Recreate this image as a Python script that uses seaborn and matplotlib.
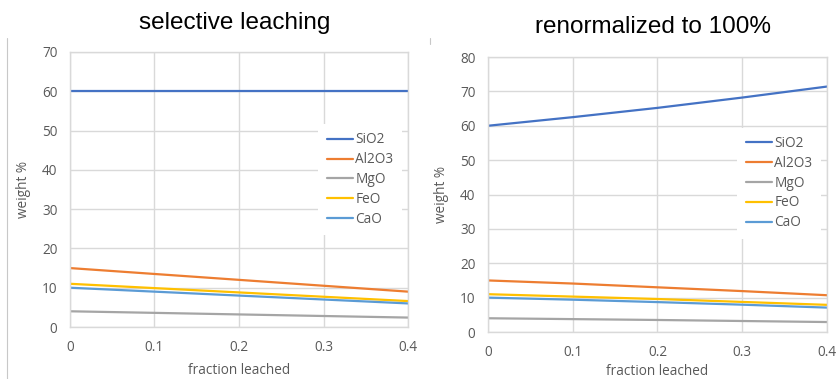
import matplotlib
matplotlib.use("Agg")
import matplotlib.pyplot as plt
from matplotlib.lines import Line2D
import seaborn as sns
import pandas as pd

# fraction of the non-silica oxides removed
fraction = [0.0, 0.1, 0.2, 0.3, 0.4]
oxides = ["SiO2", "Al2O3", "MgO", "FeO", "CaO"]

# weight % after selective leaching (absolute, not renormalized)
leach_sio2 = [60.0, 60.0, 60.0, 60.0, 60.0]
leach_al2o3 = [15.0, 13.5, 12.0, 10.5, 9.0]
leach_mgo = [4.0, 3.6, 3.2, 2.8, 2.4]
leach_feo = [11.0, 9.9, 8.8, 7.7, 6.6]
leach_cao = [10.0, 9.0, 8.0, 7.0, 6.0]

# the same compositions renormalized to a 100% total
norm_sio2 = [60.0, 62.5, 65.2, 68.2, 71.4]
norm_al2o3 = [15.0, 14.1, 13.0, 11.9, 10.7]
norm_mgo = [4.0, 3.75, 3.5, 3.2, 2.9]
norm_feo = [11.0, 10.3, 9.6, 8.75, 7.9]
norm_cao = [10.0, 9.4, 8.7, 7.95, 7.1]

titles = ["selective leaching", "renormalized to 100%"]
y_limits = [70, 80]

palette = {"SiO2": "#4472C4", "Al2O3": "#ED7D31", "MgO": "#A5A5A5",
           "FeO": "#FFC000", "CaO": "#5B9BD5"}


def long_table(series):
    rows = []
    for name, values in zip(oxides, series):
        for f, v in zip(fraction, values):
            rows.append({"fraction leached": f, "weight %": v, "oxide": name})
    return pd.DataFrame(rows)


tables = [
    long_table([leach_sio2, leach_al2o3, leach_mgo, leach_feo, leach_cao]),
    long_table([norm_sio2, norm_al2o3, norm_mgo, norm_feo, norm_cao]),
]

sns.set_theme(style="whitegrid")
plt.rcParams["font.family"] = ["Open Sans", "DejaVu Sans"]

fig = plt.figure(figsize=(8.38, 3.79), dpi=100)
axes_boxes = [[0.0835, 0.1372, 0.4034, 0.7256], [0.5823, 0.124, 0.4045, 0.7256]]
title_y = [0.938, 0.93]
legend_anchor = [(0.715, 0.762), (0.716, 0.768)]
xlabel_pad = [6, 3]
label_color = "#595959"
grid_color = "#d9d9d9"

for i in range(2):
    ax = fig.add_axes(axes_boxes[i])
    sns.lineplot(data=tables[i], x="fraction leached", y="weight %", hue="oxide",
                 hue_order=oxides, palette=palette, linewidth=1.6, ax=ax)
    ax.set_xlim(0, 0.4)
    ax.set_ylim(0, y_limits[i])
    ax.set_xticks(fraction)
    ax.set_xticklabels(["0", "0.1", "0.2", "0.3", "0.4"])
    ax.set_yticks(range(0, y_limits[i] + 1, 10))
    ax.tick_params(axis="both", labelsize=9.8, labelcolor=label_color, pad=9, length=0)
    ax.grid(True, color=grid_color, linewidth=1.0)
    for s in ax.spines.values():
        s.set_color(grid_color)
        s.set_linewidth(1.0)
    ax.set_xlabel("fraction leached", fontsize=9.8, color=label_color,
                  labelpad=xlabel_pad[i])
    ax.set_ylabel("weight %", fontsize=9.8, color=label_color, labelpad=8)
    leg = ax.legend(loc="upper left", bbox_to_anchor=legend_anchor[i], frameon=True,
                    fontsize=9.8, handlelength=1.9, handletextpad=0.2,
                    labelspacing=0.36, borderpad=0.6, title=None)
    leg.get_frame().set_facecolor("white")
    leg.get_frame().set_edgecolor("none")
    leg.get_frame().set_alpha(1.0)
    for t in leg.get_texts():
        t.set_color(label_color)
    fig.text(axes_boxes[i][0] + axes_boxes[i][2] / 2 - 0.005, title_y[i], titles[i],
             ha="center", va="center", fontsize=17.5, family="Liberation Sans",
             color="black")

# thin slide borders around the panels
fig.add_artist(Line2D([7 / 838, 7 / 838], [0, 1 - 38 / 379], color="#c8c8c8", linewidth=0.8))
fig.add_artist(Line2D([430 / 838, 430 / 838], [1 - 38 / 379, 1 - 44 / 379], color="#c8c8c8", linewidth=0.8))

fig.savefig("out.png", dpi=100, facecolor="white")
